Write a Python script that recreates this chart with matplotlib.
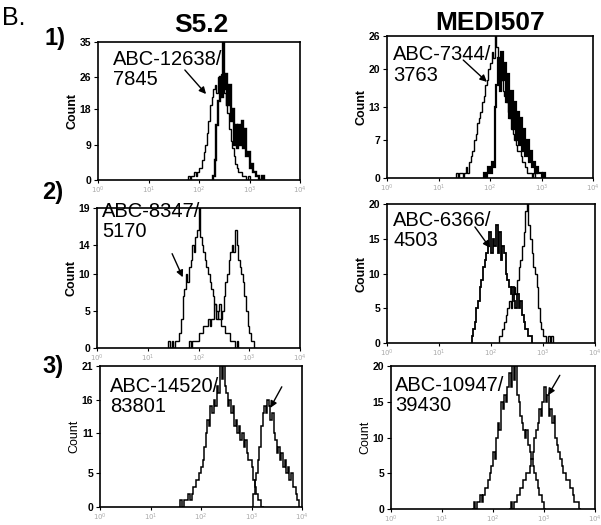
import numpy as np
import matplotlib
matplotlib.use("Agg")
import matplotlib.pyplot as plt

plt.rcParams["font.family"] = ["Liberation Sans", "DejaVu Sans"]

CH_PER_DECADE = 32  # histogram channels per log decade

# Row 1 - S5.2
r1_s52_open_start = 56
r1_s52_open = [0, 1, 0, 1, 1, 2, 1, 2, 3, 3, 5, 7, 9, 12, 15, 19, 21, 23, 24, 22,
               26, 25, 27, 24, 22, 19, 17, 13, 10, 8, 6, 4, 3, 2, 2, 1, 1, 1, 0, 1, 0]
r1_s52_stain_start = 72
r1_s52_stain = [0, 1, 5, 14, 20, 26, 21, 38, 23, 27, 19, 24, 15, 18, 9, 14, 8, 14, 9, 15,
                8, 13, 6, 7, 3, 4, 2, 2, 1, 1, 0, 0, 1, 0]
# Row 1 - MEDI507
r1_medi_open_start = 43
r1_medi_open = [1, 0, 1, 1, 0, 1, 2, 1, 3, 4, 5, 7, 8, 10, 11, 12, 14, 15, 17, 18,
                20, 21, 23, 22, 30, 24, 21, 19, 18, 16, 15, 14, 12, 11, 9, 8, 7, 6, 5, 5,
                4, 3, 3, 2, 1, 1, 1, 0, 1, 0]
r1_medi_stain_start = 60
r1_medi_stain = [1, 0, 1, 2, 1, 3, 2, 13, 17, 22, 16, 23, 18, 21, 14, 19, 11, 16, 9, 14,
                 7, 12, 6, 11, 5, 9, 4, 7, 3, 5, 2, 3, 1, 2, 1, 1, 0, 1, 0]
# Row 2 - S5.2
r2_s52_low_start = 45
r2_s52_low = [1, 0, 1, 0, 1, 1, 1, 2, 4, 7, 8, 10, 9, 11, 12, 14, 13, 15, 16, 21,
              15, 14, 13, 12, 11, 10, 9, 8, 7, 6, 5, 4, 4, 3, 3, 3, 2, 2, 2, 1,
              1, 1, 0, 1, 0]
r2_s52_high_start = 57
r2_s52_high = [0, 1, 0, 1, 1, 1, 1, 2, 2, 2, 3, 3, 3, 4, 3, 4, 4, 6, 4, 5,
               6, 4, 5, 7, 9, 10, 12, 13, 14, 13, 16, 14, 12, 11, 10, 9, 7, 5, 3, 2,
               1, 1, 0]
# Row 2 - MEDI507
r2_medi_low_start = 52
r2_medi_low = [1, 2, 3, 5, 6, 8, 9, 11, 12, 13, 14, 16, 13, 15, 14, 17, 13, 16, 12, 14,
               13, 10, 9, 8, 7, 8, 6, 5, 7, 5, 6, 4, 3, 2, 2, 1, 1, 0]
r2_medi_high_start = 68
r2_medi_high = [0, 1, 1, 2, 3, 4, 5, 6, 5, 7, 8, 7, 9, 11, 12, 14, 16, 19, 23, 17,
                15, 13, 11, 10, 8, 5, 3, 2, 1, 1, 0, 1, 0, 1, 0]
# Row 3 - S5.2
r3_s52_low_start = 50
r3_s52_low = [0, 1, 0, 1, 1, 1, 2, 1, 2, 3, 3, 4, 4, 5, 6, 7, 9, 11, 13, 12,
              15, 14, 16, 15, 18, 17, 23, 19, 24, 18, 17, 15, 16, 14, 15, 12, 13, 11, 12, 10,
              11, 9, 10, 8, 7, 7, 6, 4, 3, 2, 1, 1, 0, 0]
r3_s52_high_start = 96
r3_s52_high = [0, 2, 4, 5, 7, 9, 12, 14, 15, 14, 16, 15, 13, 14, 11, 10, 8, 9, 7, 8,
               6, 7, 5, 6, 4, 5, 3, 3, 2, 1, 0]
# Row 3 - MEDI507
r3_medi_low_start = 51
r3_medi_low = [0, 1, 0, 1, 1, 2, 1, 2, 3, 3, 4, 5, 6, 8, 7, 10, 12, 11, 15, 14,
               16, 15, 17, 19, 17, 22, 18, 21, 16, 15, 13, 12, 11, 10, 11, 9, 8, 7, 6, 5,
               4, 3, 2, 2, 1, 0]
r3_medi_high_start = 74
r3_medi_high = [0, 1, 0, 1, 1, 2, 2, 3, 3, 4, 4, 5, 5, 6, 7, 8, 10, 11, 12, 14,
                13, 15, 17, 15, 16, 13, 14, 12, 13, 10, 9, 8, 7, 6, 5, 5, 4, 4, 3, 3,
                2, 1, 1, 1, 0]

# y ticks per panel
r1_s52_yticks = [0, 9, 18, 26, 35]
r1_medi_yticks = [0, 7, 13, 20, 26]
r2_s52_yticks = [0, 5, 10, 14, 19]
r2_medi_yticks = [0, 5, 10, 15, 20]
r3_s52_yticks = [0, 5, 11, 16, 21]
r3_medi_yticks = [0, 5, 10, 15, 20]

labels = ["ABC-12638/\n7845", "ABC-7344/\n3763",
          "ABC-8347/\n5170", "ABC-6366/\n4503",
          "ABC-14520/\n83801", "ABC-10947/\n39430"]
# arrow (tail log10, tail count, tip log10, tip count)
arrows = [(1.72, 27.9, 2.14, 21.8), (1.48, 21.6, 1.94, 17.6),
          (1.48, 12.8, 1.69, 9.6), (1.69, 16.7, 1.98, 13.7),
          (3.60, 17.9, 3.37, 14.75), (3.31, 18.7, 3.08, 15.9)]

panels = [
    (r1_s52_open_start, r1_s52_open, r1_s52_stain_start, r1_s52_stain, r1_s52_yticks),
    (r1_medi_open_start, r1_medi_open, r1_medi_stain_start, r1_medi_stain, r1_medi_yticks),
    (r2_s52_low_start, r2_s52_low, r2_s52_high_start, r2_s52_high, r2_s52_yticks),
    (r2_medi_low_start, r2_medi_low, r2_medi_high_start, r2_medi_high, r2_medi_yticks),
    (r3_s52_low_start, r3_s52_low, r3_s52_high_start, r3_s52_high, r3_s52_yticks),
    (r3_medi_low_start, r3_medi_low, r3_medi_high_start, r3_medi_high, r3_medi_yticks),
]

# axes boxes in pixels: left, top, right, bottom
boxes = [(98, 42, 300, 180), (387, 36, 593, 178),
         (97, 208, 300, 348), (387, 204, 595, 343),
         (100, 366, 302, 507), (391, 366, 595, 509)]
text_pos = [(0.074, 0.945), (0.029, 0.935), (0.025, 1.045),
            (0.029, 0.952), (0.05, 0.925), (0.02, 0.933)]
line_w = [(1.0, 1.7), (1.0, 1.6), (1.0, 1.0), (1.3, 1.0), (1.1, 1.1), (1.1, 1.1)]

W, H = 601, 525
fig = plt.figure(figsize=(W / 100, H / 100), dpi=100)

for i, (sa, ca, sb, cb, yt) in enumerate(panels):
    l, t, r, b = boxes[i]
    ax = fig.add_axes([l / W, 1 - b / H, (r - l) / W, (b - t) / H])
    for start, counts, lw in ((sa, ca, line_w[i][0]), (sb, cb, line_w[i][1])):
        ch = np.arange(start, start + len(counts) + 1)
        edges = 10 ** (ch / CH_PER_DECADE)
        ax.stairs(counts, edges, color="black", linewidth=lw, baseline=0)
    ax.set_xscale("log")
    ax.set_xlim(1, 1e4)
    ax.set_ylim(0, yt[-1])
    ax.set_yticks(yt)
    ax.set_yticklabels([str(v) for v in yt], fontsize=7.5, fontweight="bold")
    ax.set_xticks([1, 10, 100, 1000, 10000])
    ax.set_xticklabels([r"$10^{%d}$" % k for k in range(5)], fontsize=5, color="#aaaaaa")
    ax.tick_params(axis="y", which="major", length=3, width=0.8, pad=2)
    ax.tick_params(axis="x", which="major", length=2.5, width=0.8, pad=1)
    ax.tick_params(axis="x", which="minor", length=1.5, width=0.6)
    for sp in ax.spines.values():
        sp.set_linewidth(1.2)
    ax.set_ylabel("Count", fontsize=9, labelpad=1,
                  fontweight="bold" if i < 4 else "normal")
    tx, ty = text_pos[i]
    ax.text(tx, ty, labels[i], transform=ax.transAxes, fontsize=14.5,
            ha="left", va="top", linespacing=1.1)
    x0, y0, x1, y1 = arrows[i]
    ax.annotate("", xy=(10 ** x1, y1), xytext=(10 ** x0, y0),
                arrowprops=dict(arrowstyle="-|>", color="black", lw=1.0,
                                mutation_scale=10, shrinkA=0, shrinkB=0))

fig.text(2 / W, 1 - 18 / H, "B.", fontsize=18, ha="left", va="center")
fig.text(201 / W, 1 - 25 / H, "S5.2", fontsize=19, fontweight="bold", ha="center", va="center")
fig.text(490 / W, 1 - 23 / H, "MEDI507", fontsize=19, fontweight="bold", ha="center", va="center")
for lab, (px, py) in zip(["1)", "2)", "3)"], [(55, 39), (53, 193), (53, 366)]):
    fig.text(px / W, 1 - py / H, lab, fontsize=17, fontweight="bold", ha="center", va="center")

fig.savefig("out.png", dpi=100)
